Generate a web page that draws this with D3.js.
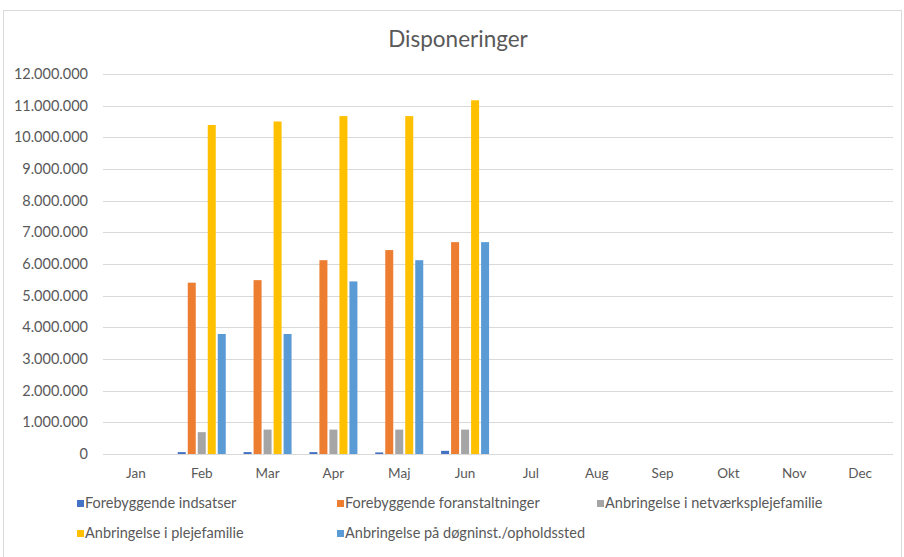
<!DOCTYPE html>
<html>
<head>
<meta charset="utf-8">
<script src="https://cdn.jsdelivr.net/npm/d3@7"></script>
<style>
  body { margin: 0; background: #fff; }
  svg text { font-family: Lato, "Open Sans", sans-serif; fill: #595959; }
</style>
</head>
<body>
<svg id="chart" width="904" height="557"></svg>
<script>
///////////////////////////////////////////
// Data
///////////////////////////////////////////
var months = ["Jan", "Feb", "Mar", "Apr", "Maj", "Jun", "Jul", "Aug", "Sep", "Okt", "Nov", "Dec"];
var seriesNames = ["Forebyggende indsatser", "Forebyggende foranstaltninger", "Anbringelse i netværksplejefamilie", "Anbringelse i plejefamilie", "Anbringelse på døgninst./opholdssted"];
var seriesColors = ["#4472C4", "#ED7D31", "#A5A5A5", "#FFC000", "#5B9BD5"];

// values per month (only Feb..Jun have data)
var indsatser      = [0, 60000, 60000, 60000, 50000, 100000, 0, 0, 0, 0, 0, 0];
var foranstaltning = [0, 5410000, 5490000, 6120000, 6440000, 6690000, 0, 0, 0, 0, 0, 0];
var netvaerk       = [0, 690000, 770000, 770000, 770000, 770000, 0, 0, 0, 0, 0, 0];
var plejefamilie   = [0, 10390000, 10500000, 10670000, 10670000, 11170000, 0, 0, 0, 0, 0, 0];
var doegninst      = [0, 3790000, 3790000, 5450000, 6120000, 6690000, 0, 0, 0, 0, 0, 0];
var yTicks = [0, 1000000, 2000000, 3000000, 4000000, 5000000, 6000000, 7000000, 8000000, 9000000, 10000000, 11000000, 12000000];

///////////////////////////////////////////
// Chart
///////////////////////////////////////////
var allSeries = [indsatser, foranstaltning, netvaerk, plejefamilie, doegninst];

var svg = d3.select("#chart");
var margin = { left: 103, right: 11, top: 74, bottom: 103 };
var width = 904 - margin.left - margin.right,
    height = 557 - margin.top - margin.bottom;

// outer frame
svg.append("rect")
    .attr("x", 3.5).attr("y", 10.5)
    .attr("width", 898).attr("height", 560)
    .attr("fill", "none")
    .attr("stroke", "#d9d9d9");

svg.append("text")
    .attr("x", 458).attr("y", 47)
    .attr("text-anchor", "middle")
    .style("font-size", "22.5px")
    .text("Disponeringer");

var g = svg.append("g").attr("transform", "translate(" + margin.left + "," + margin.top + ")");

var x = d3.scaleBand().domain(months).range([0, width]);
var y = d3.scaleLinear().domain([0, 12000000]).range([height, 0]);
var xInner = d3.scaleBand().domain(d3.range(seriesNames.length)).range([-24, 24]).paddingInner(0.2);

var fmt = function(v) { return d3.format(",d")(v).replace(/,/g, "."); };

// gridlines
g.append("g")
    .selectAll("line")
    .data(yTicks)
    .enter().append("line")
    .attr("x1", 0).attr("x2", width)
    .attr("y1", function(d) { return Math.round(y(d)) + 0.5; })
    .attr("y2", function(d) { return Math.round(y(d)) + 0.5; })
    .attr("stroke", "#d9d9d9");

// y axis labels
var yAxis = d3.axisLeft(y).tickValues(yTicks).tickFormat(fmt).tickSize(0).tickPadding(15);
g.append("g").call(yAxis)
    .call(function(a) { a.select(".domain").remove(); })
    .selectAll("text").style("font-size", "14.5px");

// x axis labels
var xAxis = d3.axisBottom(x).tickSize(0).tickPadding(14);
g.append("g").attr("transform", "translate(0," + height + ")").call(xAxis)
    .call(function(a) { a.select(".domain").remove(); })
    .selectAll("text").style("font-size", "13.5px");

// bars
allSeries.forEach(function(vals, si) {
    g.append("g")
        .selectAll("rect")
        .data(vals.map(function(v, i) { return { month: months[i], value: v }; }).filter(function(d) { return d.value > 0; }))
        .enter().append("rect")
        .attr("x", function(d) { return x(d.month) + x.bandwidth() / 2 + xInner(si); })
        .attr("width", xInner.bandwidth())
        .attr("y", function(d) { return y(d.value); })
        .attr("height", function(d) { return y(0) - y(d.value); })
        .attr("fill", seriesColors[si]);
});

// legend
var legendPos = [[77, 508], [337, 508], [597, 508], [77, 538], [337, 538]];
var legend = svg.append("g")
    .selectAll("g")
    .data(seriesNames)
    .enter().append("g")
    .attr("transform", function(d, i) { return "translate(" + legendPos[i][0] + "," + legendPos[i][1] + ")"; });

legend.append("rect")
    .attr("x", 0).attr("y", -8)
    .attr("width", 7).attr("height", 7)
    .attr("fill", function(d, i) { return seriesColors[i]; });

legend.append("text")
    .attr("x", 8).attr("y", 0)
    .style("font-size", "14.5px")
    .text(function(d) { return d; });
</script>
</body>
</html>
